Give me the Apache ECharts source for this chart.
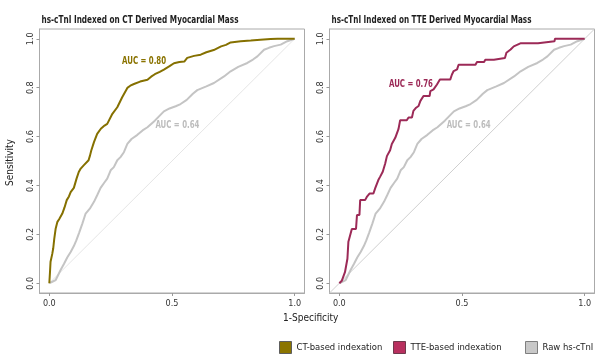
<!DOCTYPE html>
<html>
<head>
<meta charset="utf-8">
<script src="https://cdn.jsdelivr.net/npm/echarts@6/dist/echarts.min.js"></script>
<style>
html,body{margin:0;padding:0;background:#fff;}
#c{width:608px;height:360px;}
</style>
</head>
<body>
<div id="c"></div>
<script>
// ---- Data ----
const CT_X = [0,0.003,0.005,0.012,0.016,0.02,0.026,0.033,0.04,0.053,0.062,0.071,0.08,0.087,0.1,0.111,0.12,0.128,0.14,0.148,0.16,0.166,0.171,0.182,0.195,0.21,0.225,0.236,0.257,0.277,0.297,0.318,0.33,0.345,0.37,0.40,0.415,0.43,0.45,0.467,0.49,0.508,0.53,0.55,0.562,0.59,0.617,0.64,0.67,0.70,0.72,0.739,0.78,0.821,0.86,0.902,0.93,0.96,1];
const CT_Y = [0,0.05,0.088,0.12,0.143,0.18,0.224,0.251,0.262,0.285,0.31,0.34,0.355,0.373,0.39,0.428,0.455,0.469,0.482,0.489,0.503,0.523,0.543,0.577,0.611,0.632,0.645,0.652,0.693,0.72,0.761,0.799,0.808,0.815,0.825,0.832,0.845,0.855,0.865,0.874,0.888,0.900,0.905,0.907,0.922,0.93,0.935,0.945,0.954,0.969,0.975,0.985,0.99,0.993,0.996,0.999,1.0,1.0,1];

const RAW_X = [0,0.01,0.026,0.046,0.06,0.073,0.087,0.10,0.11,0.121,0.135,0.148,0.165,0.182,0.195,0.209,0.223,0.236,0.25,0.263,0.277,0.29,0.304,0.318,0.335,0.359,0.38,0.40,0.43,0.467,0.49,0.515,0.535,0.56,0.585,0.603,0.64,0.671,0.712,0.739,0.77,0.807,0.83,0.848,0.875,0.895,0.916,0.943,0.97,1];
const RAW_Y = [0,0.005,0.013,0.054,0.08,0.105,0.128,0.152,0.175,0.205,0.245,0.285,0.305,0.333,0.36,0.39,0.41,0.428,0.462,0.475,0.503,0.516,0.536,0.57,0.59,0.607,0.625,0.638,0.665,0.703,0.715,0.724,0.733,0.75,0.775,0.79,0.805,0.819,0.846,0.867,0.885,0.901,0.915,0.928,0.955,0.963,0.970,0.976,0.99,1];

const TTE_X = [0,0.01,0.023,0.033,0.037,0.044,0.051,0.068,0.072,0.082,0.085,0.105,0.112,0.123,0.139,0.146,0.159,0.166,0.177,0.187,0.194,0.207,0.214,0.228,0.241,0.248,0.275,0.282,0.296,0.302,0.313,0.323,0.33,0.343,0.368,0.371,0.384,0.398,0.41,0.452,0.459,0.466,0.48,0.486,0.555,0.561,0.59,0.595,0.63,0.636,0.675,0.681,0.698,0.711,0.74,0.81,0.812,0.877,0.879,1];
const TTE_Y = [0,0.01,0.045,0.1,0.17,0.17,0.222,0.222,0.279,0.279,0.34,0.34,0.353,0.367,0.367,0.388,0.422,0.435,0.456,0.49,0.52,0.544,0.57,0.595,0.63,0.667,0.667,0.678,0.678,0.705,0.718,0.725,0.745,0.766,0.766,0.786,0.793,0.813,0.833,0.833,0.854,0.868,0.875,0.894,0.894,0.905,0.905,0.914,0.914,0.921,0.921,0.943,0.956,0.969,0.982,0.982,0.99,0.99,1.0,1];

const X_TICKS = [0, 0.5, 1];
const Y_TICKS = [0, 0.2, 0.4, 0.6, 0.8, 1];
const TITLES = ['hs-cTnI Indexed on CT Derived Myocardial Mass', 'hs-cTnI Indexed on TTE Derived Myocardial Mass'];
const AUC_TEXT = ['AUC = 0.80', 'AUC = 0.64', 'AUC = 0.76', 'AUC = 0.64'];
const AUC_PANEL = [0, 0, 1, 1];
const AUC_X = [0.386, 0.522, 0.292, 0.527];
const AUC_Y = [0.906, 0.645, 0.812, 0.646];
const NAMES = ['CT-based indexation', 'TTE-based indexation', 'Raw hs-cTnI'];

// ---- Build ----
const FONT = '"Liberation Sans Narrow","DejaVu Sans Condensed","Roboto",sans-serif';
const zip = (a, b) => a.map((v, i) => [v, b[i]]);
const C_CT = '#857000', C_TTE = '#9c2a57', C_RAW = '#c4c4c4';
const AUC_COLORS = ['#8a7300', '#bdbdbd', '#9c2a57', '#bdbdbd'];

const mctx = document.createElement('canvas').getContext('2d');
function scaleFor(text, font, target) {
  mctx.font = font;
  const w = mctx.measureText(text).width;
  return w > 0 ? target / w : 1;
}

function xAxis(idx) {
  return {
    type: 'value', gridIndex: idx, min: -0.04, max: 1.04, position: 'bottom',
    axisLine: {show: true, onZero: false, lineStyle: {color: '#aaa', width: 1}}, splitLine: {show: false},
    axisTick: {show: true, inside: false, customValues: X_TICKS, length: 3, lineStyle: {color: '#999'}},
    axisLabel: {customValues: X_TICKS, formatter: v => v.toFixed(1), fontFamily: FONT, fontSize: 9, color: '#333', margin: 6}
  };
}
function yAxis(idx) {
  return {
    type: 'value', gridIndex: idx, min: -0.04, max: 1.04, position: 'left',
    axisLine: {show: true, onZero: false, lineStyle: {color: '#aaa', width: 1}}, splitLine: {show: false},
    axisTick: {show: true, inside: false, customValues: Y_TICKS, length: 3, lineStyle: {color: '#999'}},
    axisLabel: {customValues: Y_TICKS, formatter: v => v.toFixed(1), rotate: 90, fontFamily: FONT, fontSize: 9, color: '#333', margin: 4}
  };
}
const lineBase = {type: 'line', showSymbol: false, symbol: 'none', silent: true, animation: false};

const series = [
  Object.assign({}, lineBase, {name: 'diag0', xAxisIndex: 0, yAxisIndex: 0, data: [[0,0],[1,1]], lineStyle: {color: '#dedede', width: 0.8}}),
  Object.assign({}, lineBase, {name: NAMES[2], xAxisIndex: 0, yAxisIndex: 0, data: zip(RAW_X, RAW_Y), lineStyle: {color: C_RAW, width: 2}, itemStyle: {color: C_RAW}}),
  Object.assign({}, lineBase, {name: NAMES[0], xAxisIndex: 0, yAxisIndex: 0, data: zip(CT_X, CT_Y), lineStyle: {color: C_CT, width: 2}, itemStyle: {color: C_CT}}),
  Object.assign({}, lineBase, {name: 'diag1', xAxisIndex: 1, yAxisIndex: 1, data: [[-0.04,-0.04],[1.04,1.04]], lineStyle: {color: '#cfcfcf', width: 1}}),
  Object.assign({}, lineBase, {name: NAMES[2], xAxisIndex: 1, yAxisIndex: 1, data: zip(RAW_X, RAW_Y), lineStyle: {color: C_RAW, width: 2}, itemStyle: {color: C_RAW}}),
  Object.assign({}, lineBase, {name: NAMES[1], xAxisIndex: 1, yAxisIndex: 1, data: zip(TTE_X, TTE_Y), lineStyle: {color: C_TTE, width: 2}, itemStyle: {color: C_TTE}})
];

function legend(name, left, fill, border) {
  return {
    left: left, top: 336, itemWidth: 12, itemHeight: 12, itemGap: 0, selectedMode: false,
    textStyle: {fontFamily: FONT, fontSize: 9.4, color: '#222'},
    data: [{name: name, icon: 'rect', itemStyle: {color: fill, borderColor: border, borderWidth: 1}}]
  };
}

const TITLE_FONT = 'bold 11px ' + FONT;
const titleGraphics = [
  {type: 'text', x: 41.5, y: 20.5, scaleX: scaleFor(TITLES[0], TITLE_FONT, 197), style: {text: TITLES[0], font: TITLE_FONT, fill: '#1e1e1e', textVerticalAlign: 'middle'}},
  {type: 'text', x: 331.5, y: 20.5, scaleX: scaleFor(TITLES[1], TITLE_FONT, 200), style: {text: TITLES[1], font: TITLE_FONT, fill: '#1e1e1e', textVerticalAlign: 'middle'}},
  {type: 'text', left: 283, top: 313, style: {text: '1-Specificity', font: '10px ' + FONT, fill: '#222'}},
  {type: 'text', x: 5, y: 186, rotation: Math.PI / 2, style: {text: 'Sensitivity', font: '10px ' + FONT, fill: '#222'}}
];

const option = {
  animation: false,
  backgroundColor: '#fff',
  grid: [
    {left: 39.5, top: 29, width: 265, height: 264, show: true, borderColor: '#aaa', borderWidth: 1, containLabel: false},
    {left: 329.5, top: 29, width: 265, height: 264, show: true, borderColor: '#aaa', borderWidth: 1, containLabel: false}
  ],
  xAxis: [xAxis(0), xAxis(1)],
  yAxis: [yAxis(0), yAxis(1)],
  legend: [
    legend(NAMES[0], 274, '#8b7500', '#5e5e5e'),
    legend(NAMES[1], 388, '#b8305f', '#6e3a4c'),
    legend(NAMES[2], 520, '#c8c8c8', '#7f7f7f')
  ],
  graphic: titleGraphics,
  series: series
};
const chart = echarts.init(document.getElementById('c'), null, {renderer: 'canvas'});
chart.setOption(option);

// AUC labels placed through the axes' own scales
const AUC_FONT = 'bold 10px ' + FONT;
const aucGraphics = AUC_TEXT.map((t, i) => {
  const p = chart.convertToPixel({gridIndex: AUC_PANEL[i]}, [AUC_X[i], AUC_Y[i]]);
  return {type: 'text', x: p[0], y: p[1], scaleX: scaleFor(t, AUC_FONT, 44),
    style: {text: t, font: AUC_FONT, fill: AUC_COLORS[i], textAlign: 'center', textVerticalAlign: 'middle'}};
});
chart.setOption({graphic: titleGraphics.concat(aucGraphics)});
</script>
</body>
</html>
